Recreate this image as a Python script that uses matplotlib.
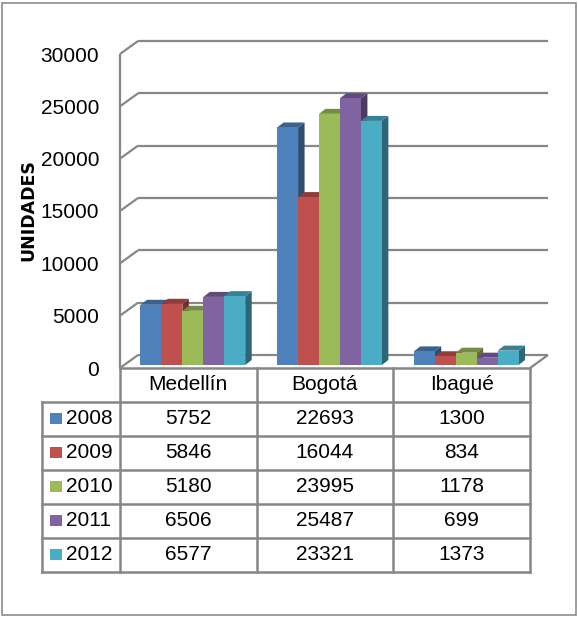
import numpy as np
import matplotlib
matplotlib.use("Agg")
import matplotlib.pyplot as plt
from matplotlib.patches import Rectangle, Polygon
from matplotlib.colors import to_rgb

#####################################
# Data
#####################################
ciudades = ["Medellín", "Bogotá", "Ibagué"]
anios = ["2008", "2009", "2010", "2011", "2012"]
v2008 = [5752, 22693, 1300]
v2009 = [5846, 16044, 834]
v2010 = [5180, 23995, 1178]
v2011 = [6506, 25487, 699]
v2012 = [6577, 23321, 1373]
series = [v2008, v2009, v2010, v2011, v2012]
y_ticks = [0, 5000, 10000, 15000, 20000, 25000, 30000]

colores = ["#4F81BD", "#C0504D", "#9BBB59", "#8064A2", "#4BACC6"]
GRIS = "#878787"
FONT = "Liberation Sans"
FS = 15

W, H = 578, 617
fig = plt.figure(figsize=(W / 100, H / 100), dpi=100)


def fig_box(x0, y_top, x1, y_bot):
    """pixel box -> figure fraction [left, bottom, width, height]"""
    return [x0 / W, (H - y_bot) / H, (x1 - x0) / W, (y_bot - y_top) / H]


def shade(c, f):
    return tuple(np.array(to_rgb(c)) * f)


#####################################
# Chart area (front plane of the 3D box)
#####################################
ax = fig.add_axes(fig_box(120, 54, 530, 368))
ax.set_xlim(0, 3)
ax.set_ylim(0, 30000)
for s in ax.spines.values():
    s.set_visible(False)
ax.set_xticks([])
ax.set_yticks(y_ticks)
ax.set_yticklabels([str(t) for t in y_ticks], fontsize=FS, family=FONT)
ax.tick_params(axis="y", length=0, pad=15)
ax.patch.set_alpha(0)

fig.canvas.draw()
inv = ax.transData.inverted()


def px(dx, dy):
    """screen pixel offset -> data offset"""
    p0 = ax.transData.transform((0, 0))
    return inv.transform(p0 + np.array([dx, dy])) - inv.transform(p0)


BX, BY = px(18, 13)      # full depth of the box
FX, FY = px(4.5, 3)      # where the bar front faces sit
SX, SY = px(6.5, 5)      # depth of each bar

line_kw = dict(color=GRIS, lw=1.6, clip_on=False, solid_capstyle="butt")

# back wall gridlines + diagonals on the left side wall
for t in y_ticks:
    ax.plot([BX, 3 + BX], [t + BY, t + BY], zorder=1, **line_kw)
    ax.plot([0, BX], [t, t + BY], zorder=1, **line_kw)
ax.plot([0, 0], [0, 30000], zorder=1, **line_kw)
ax.plot([3, 3 + BX], [0, BY], zorder=1, **line_kw)

# bars, left to right so each front face hides the previous side face
gap = 16 / 137
bw = 21 / 137
z = 2
for i in range(len(ciudades)):
    for j, vals in enumerate(series):
        v = vals[i]
        x0 = i + gap + j * bw + FX
        y0 = FY
        c = colores[j]
        side = Polygon([(x0 + bw, y0), (x0 + bw, y0 + v),
                        (x0 + bw + SX, y0 + v + SY), (x0 + bw + SX, y0 + SY)],
                       closed=True, facecolor=shade(c, 0.6), edgecolor="none",
                       zorder=z, clip_on=False)
        top = Polygon([(x0, y0 + v), (x0 + bw, y0 + v),
                       (x0 + bw + SX, y0 + v + SY), (x0 + SX, y0 + v + SY)],
                      closed=True, facecolor=shade(c, 0.75), edgecolor="none",
                      zorder=z, clip_on=False)
        front = Rectangle((x0, y0), bw, v, facecolor=c, edgecolor="none",
                          zorder=z + 0.5, clip_on=False)
        ax.add_patch(side)
        ax.add_patch(top)
        ax.add_patch(front)
        z += 1

fig.text(28 / W, (H - 210) / H, "UNIDADES", rotation=90, ha="center",
         va="center", fontsize=12.5, fontweight="bold", family="DejaVu Sans")

#####################################
# Data table under the chart
#####################################
L = 78 / 137
tab = fig.add_axes(fig_box(42, 368, 530, 572))
tab.set_xlim(-L, 3)
tab.set_ylim(6, 0)
tab.axis("off")

tkw = dict(color=GRIS, lw=1.8, clip_on=False, solid_capstyle="projecting")
tab.plot([0, 3], [0, 0], **tkw)
for r in range(1, 7):
    tab.plot([-L, 3], [r, r], **tkw)
tab.plot([-L, -L], [1, 6], **tkw)
for cx in range(4):
    tab.plot([cx, cx], [0, 6], **tkw)

for i, nombre in enumerate(ciudades):
    tab.text(i + 0.5, 0.5, nombre, ha="center", va="center",
             fontsize=FS, family=FONT)

for j, (anio, vals) in enumerate(zip(anios, series)):
    r = j + 1.5
    tab.add_patch(Rectangle((-L + 8 / 137, r - 5.5 / 34 - 0.02), 12 / 137, 11 / 34,
                            facecolor=colores[j], edgecolor="none"))
    tab.text(-L + 24 / 137, r, anio, ha="left", va="center",
             fontsize=FS, family=FONT)
    for i, v in enumerate(vals):
        tab.text(i + 0.5, r, str(v), ha="center", va="center",
                 fontsize=FS, family=FONT)

# outer frame of the chart object
fig.patches.append(Rectangle((2 / W, 2 / H), 574 / W, 612 / H,
                             transform=fig.transFigure, fill=False,
                             edgecolor="#8c8c8c", lw=1.2))

fig.savefig("out.png", dpi=100)
